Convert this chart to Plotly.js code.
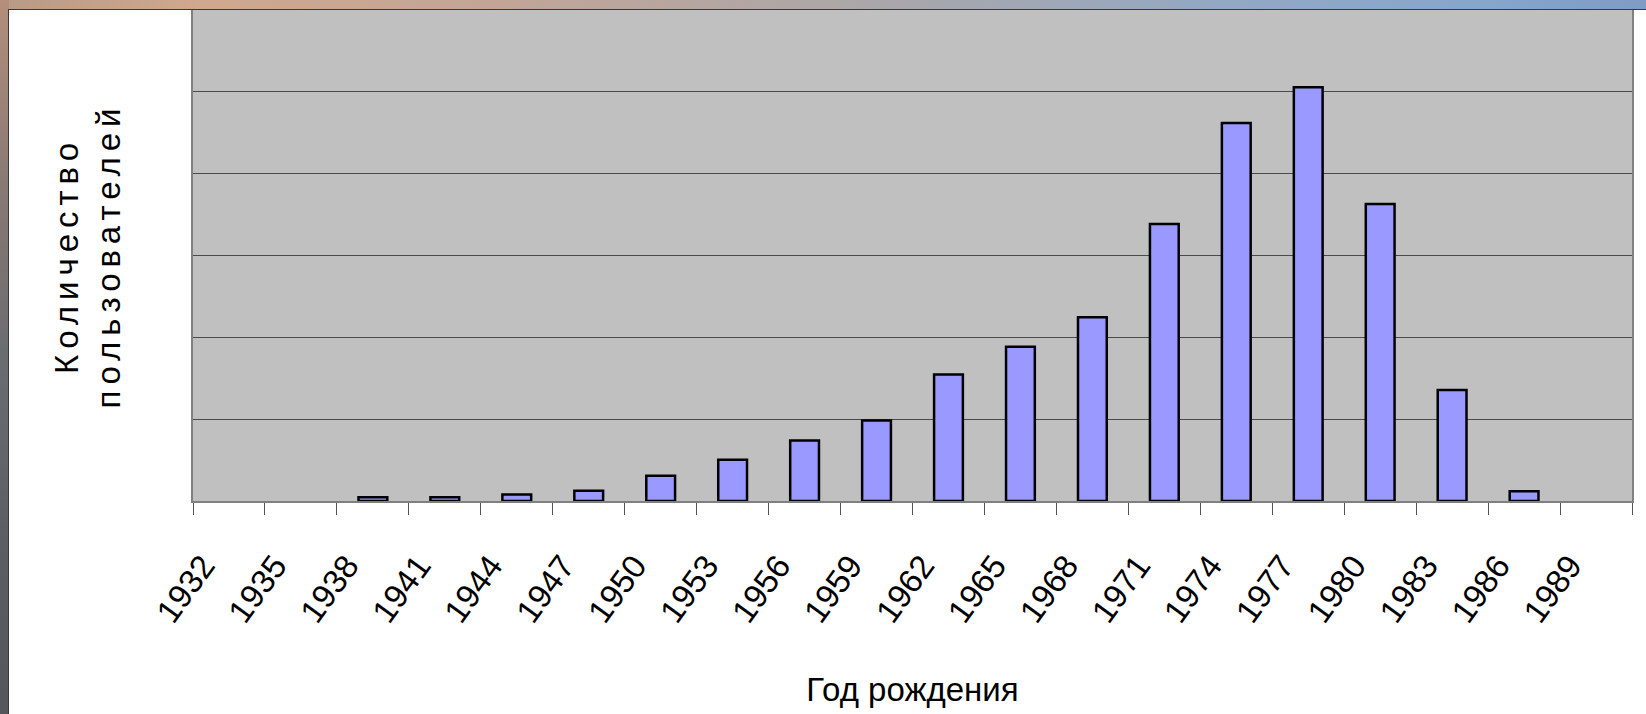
<!DOCTYPE html>
<html>
<head>
<meta charset="utf-8">
<script src="https://cdn.plot.ly/plotly-3.0.1.min.js"></script>
<style>
  html, body { margin: 0; padding: 0; width: 1646px; height: 714px; overflow: hidden; }
  #topstrip { position: absolute; left: 0; top: 0; width: 1646px; height: 10px;
    background: linear-gradient(to right, #b89a86 0%, #cfa88e 12%, #c2a596 30%, #a8a7ab 55%, #92a8c4 75%, #86a6cc 90%, #7e9cc4 100%); }
  #leftstrip { position: absolute; left: 0; top: 0; width: 9px; height: 714px;
    background: linear-gradient(to bottom, #b48f7b 0%, #8a7a74 25%, #6a6c70 50%, #5b5f63 75%, #53575b 100%); }
  #chart { position: absolute; left: 8px; top: 9px; width: 1637px; height: 704px;
    border-top: 1px solid #3a3a3a; border-left: 1px solid #3a3a3a; background: #fff; }
  #chart .ytitle { letter-spacing: 6px; }
</style>
</head>
<body>
<div id="topstrip"></div>
<div id="leftstrip"></div>
<div id="chart"></div>
<script>
const years = ['1932','1935','1938','1941','1944','1947','1950','1953','1956','1959',
               '1962','1965','1968','1971','1974','1977','1980','1983','1986','1989'];
const users = [0, 0, 0.45, 0.45, 0.8, 1.25, 3.1, 5.05, 7.4, 9.85,
               15.45, 18.85, 22.45, 33.85, 46.2, 50.55, 36.3, 13.55, 1.2, 0];
const xTitle = 'Год рождения';
const yTitle = 'Количество<br>пользователей';

const trace = {
  type: 'bar',
  x: years,
  y: users,
  marker: {
    color: '#9999ff',
    line: { color: '#000000', width: users.map(v => (v > 0 ? 2.5 : 0)) }
  },
  hoverinfo: 'x+y'
};

const layout = {
  width: 1637, height: 704,
  margin: { l: 184, r: 14, t: 0, b: 213 },
  paper_bgcolor: '#ffffff',
  plot_bgcolor: '#c0c0c0',
  bargap: 0.6,
  showlegend: false,
  font: { family: 'Liberation Sans, Arial, sans-serif', color: '#000' },
  xaxis: {
    type: 'category',
    tickson: 'boundaries',
    ticks: 'outside', ticklen: 12, tickwidth: 1, tickcolor: '#555',
    showline: true, linecolor: '#808080', linewidth: 2, mirror: true,
    showgrid: false,
    tickangle: -54,
    tickfont: { size: 33, family: 'Liberation Sans, Arial, sans-serif', color: '#000' },
    ticklabelstandoff: 30,
    ticklabelshift: -26,
    automargin: false,
    title: { text: xTitle, font: { size: 33, family: 'Liberation Sans Narrow, Arial Narrow, Liberation Sans, sans-serif', color: '#000' }, standoff: 50 }
  },
  yaxis: {
    range: [0, 60],
    dtick: 10,
    showticklabels: false,
    ticks: '',
    showgrid: true, gridcolor: '#4a4a4a', gridwidth: 1,
    zeroline: false,
    showline: true, linecolor: '#808080', linewidth: 2, mirror: true,
    automargin: false,
    title: { text: yTitle, font: { size: 33, family: 'Liberation Sans, Arial, sans-serif', color: '#000' }, standoff: 60 }
  }
};

Plotly.newPlot('chart', [trace], layout, { displayModeBar: false, staticPlot: true });
</script>
</body>
</html>
